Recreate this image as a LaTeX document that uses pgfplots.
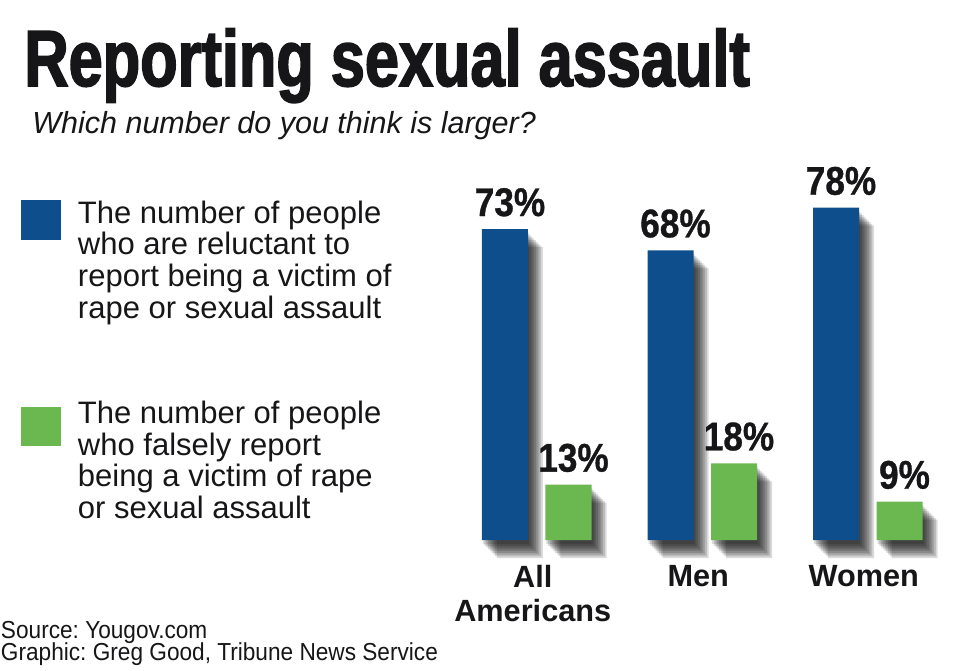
\documentclass[border=0pt]{standalone}
\usepackage{fontspec}
\setmainfont{Liberation Sans}
\newfontfamily\titlefont[FakeStretch=0.77,FakeBold=2]{Liberation Sans Bold}
\newfontfamily\valfont[FakeStretch=0.88,FakeBold=0.8]{Liberation Sans Bold}
\newfontfamily\srcfont[FakeStretch=0.92]{Liberation Sans}
\usepackage{pgfplots}
\pgfplotsset{compat=1.18}
\definecolor{barblue}{RGB}{14,78,140}
\definecolor{bargreen}{RGB}{106,184,79}
\definecolor{ink}{RGB}{22,22,24}
\makeatletter
\tikzset{nopre/.code={\let\tikz@preactions\pgfutil@empty}}
\makeatother
\tikzset{
  sh/.style 2 args={preaction={fill=black,draw=none,opacity=0.143,transform canvas={shift={(#1,#2)}}}},
  barshadow/.style={
  sh={0.5pt}{-2pt}, sh={1.375pt}{-2.875pt}, sh={2.25pt}{-3.75pt}, sh={3.125pt}{-4.625pt},
  sh={4pt}{-5.5pt}, sh={4.875pt}{-6.375pt}, sh={5.75pt}{-7.25pt}, sh={6.625pt}{-8.125pt},
  sh={7.5pt}{-9pt}
}}
\begin{document}
\frenchspacing
\begin{tikzpicture}
\useasboundingbox (0,0) rectangle (479.5pt,-335pt);
\node[anchor=base west, inner sep=0pt, text=ink, font=\titlefont\fontsize{39.8}{40}\selectfont] at (12pt,-43pt) {Reporting sexual assault};
\node[anchor=base west, inner sep=0pt, text=ink, font=\itshape\fontsize{15.25}{16}\selectfont] at (16pt,-66.65pt) {Which number do you think is larger?};
\node[anchor=base west, inner sep=0pt, text=ink, font=\srcfont\fontsize{12.3}{13}\selectfont] at (0.3pt,-319.15pt) {Source: Yougov.com};
\node[anchor=base west, inner sep=0pt, text=ink, font=\srcfont\fontsize{12.3}{13}\selectfont] at (0.3pt,-330pt) {Graphic: Greg Good, Tribune News Service};
\begin{axis}[
  at={(227pt,-270pt)}, anchor=south west,
  scale only axis, width=248.25pt, height=170.4pt,
  xmin=-0.5, xmax=2.5, ymin=0, ymax=80,
  ybar, bar width=23pt,
  axis line style={draw=none},
  ytick=\empty,
  xtick={0,1,2},
  xticklabels={{All\\Americans},{Men},{Women}},
  xtick style={draw=none}, major tick length=0pt,
  xticklabel style={align=center, anchor=north, inner sep=0pt, yshift=-12.3pt, xshift=-2pt,
    font=\bfseries\fontsize{15.35}{17.35}\selectfont, text=ink},
  clip=false,
  /pgf/number format/assume math mode=true,
  nodes near coords={\pgfmathprintnumber{\pgfplotspointmeta}\%},
  every node near coord/.append style={anchor=base, yshift=6.5pt, xshift=2.5pt,
    font=\valfont\fontsize{20}{24}\selectfont, text=ink, inner sep=0pt},
  legend style={at={(-0.8721,0.99765)}, anchor=north west, draw=none, fill=none,
    inner sep=0pt, outer sep=0pt, nodes={inner sep=0pt, text depth=},
    cells={anchor=base west}, column sep=8.5pt, row sep=0pt, text=ink},
]
\addplot[fill=barblue, draw=none, bar shift=-15.875pt, barshadow,
  legend image code/.code={\fill[nopre, barblue] (0pt,-8.5pt) rectangle (20pt,11.5pt);}]
  coordinates {(0,73) (1,68) (2,78)};
\addlegendentry{\parbox[t][100.15pt][t]{170pt}{\raggedright\fontsize{15.5}{15.85}\selectfont The number of people\\who are reluctant to\\report being a victim of\\rape or sexual assault}}
\addplot[fill=bargreen, draw=none, bar shift=15.875pt, barshadow,
  legend image code/.code={\fill[nopre, bargreen] (0pt,-11.2pt) rectangle (20pt,8.3pt);}]
  coordinates {(0,13) (1,18) (2,9)};
\addlegendentry{\parbox[t][100.15pt][t]{170pt}{\raggedright\fontsize{15.5}{15.85}\selectfont The number of people\\who falsely report\\being a victim of rape\\or sexual assault}}
\end{axis}
\end{tikzpicture}
\end{document}
